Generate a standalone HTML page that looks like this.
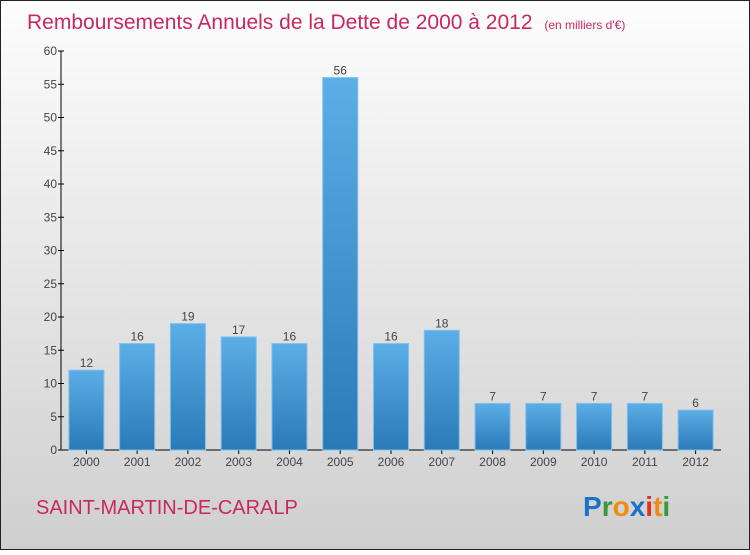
<!DOCTYPE html>
<html><head><meta charset="utf-8"><style>
html,body{margin:0;padding:0}
body{width:750px;height:550px;overflow:hidden;font-family:"Liberation Sans",sans-serif}
</style></head><body>
<svg id="chart" width="750" height="550" xmlns="http://www.w3.org/2000/svg" font-family="Liberation Sans, sans-serif">
<defs>
<linearGradient id="bg" x1="0" y1="0" x2="0" y2="1"><stop offset="0" stop-color="#fdfdfd"/><stop offset="1" stop-color="#cfcfcf"/></linearGradient>
<linearGradient id="bar" x1="0" y1="0" x2="0" y2="1"><stop offset="0" stop-color="#5caee6"/><stop offset="1" stop-color="#2a7ab8"/></linearGradient>
</defs>
<rect x="0.5" y="0.5" width="749" height="549" fill="url(#bg)" stroke="#222"/>
<text x="27" y="29" font-size="21" fill="#c8285e">Remboursements Annuels de la Dette de 2000 à 2012 <tspan font-size="12" dx="6">(en milliers d'€)</tspan></text>
<g id="axes"></g>
<g id="bars"></g>
<text x="36" y="514" font-size="20" fill="#c8285e">SAINT-MARTIN-DE-CARALP</text>
<g font-size="28" font-weight="bold">
<text x="583" y="516"><tspan fill="#1a73c8">P</tspan><tspan fill="#3a9a3a">r</tspan><tspan fill="#f08a10">o</tspan><tspan fill="#1a73c8">x</tspan><tspan fill="#e03020">i</tspan><tspan fill="#f08a10">t</tspan><tspan fill="#3a9a3a">i</tspan></text>
</g>
</svg>
<script>
const years=["2000","2001","2002","2003","2004","2005","2006","2007","2008","2009","2010","2011","2012"];
const values=[12,16,19,17,16,56,16,18,7,7,7,7,6];
const yTicks=[0,5,10,15,20,25,30,35,40,45,50,55,60];
const NS="http://www.w3.org/2000/svg";
const x0=61,x1=721,y0=450,yTop=51,yMax=60;
const step=(x1-x0)/years.length;
const yScale=v=>y0-(v/yMax)*(y0-yTop);
const xCenter=i=>x0+step*(i+0.5);
function mk(tag,attrs,parent,text){const e=document.createElementNS(NS,tag);for(const k in attrs)e.setAttribute(k,attrs[k]);if(text!==undefined)e.textContent=text;parent.appendChild(e);return e;}
const axes=document.getElementById('axes'),bars=document.getElementById('bars');
let a=mk('line',{x1:x0,y1:yTop,x2:x0,y2:y0,stroke:'#000'},axes);


a=mk('line',{x1:x0,y1:y0,x2:x1,y2:y0,stroke:'#000'},axes);


yTicks.forEach(t=>{const y=yScale(t);
mk('line',{x1:x0-3,y1:y,x2:x0+3,y2:y,stroke:'#000'},axes);
const l=mk('text',{x:x0-4,y:y+4,'font-size':12,'text-anchor':'end',fill:'#444'},axes,t);

});
years.forEach((yr,i)=>{const c=xCenter(i),v=values[i],y=yScale(v),w=35;
mk('line',{x1:c,y1:y0,x2:c,y2:y0+4,stroke:'#000'},axes);
const xl=mk('text',{x:c,y:y0+16,'font-size':12,'text-anchor':'middle',fill:'#444'},axes,yr);


const r=mk('rect',{x:c-w/2,y:y,width:w,height:y0-y,fill:'url(#bar)',stroke:'#7cc0ee','stroke-width':1},bars);


const vl=mk('text',{x:c,y:y-3,'font-size':12,'text-anchor':'middle',fill:'#444'},bars,v);

});
</script>
</body></html>
